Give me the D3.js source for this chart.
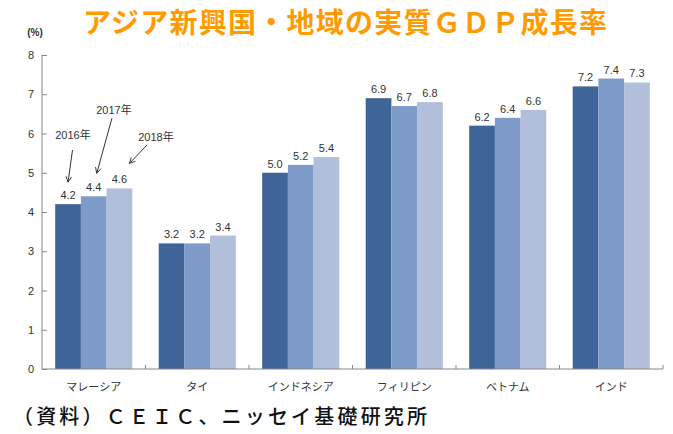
<html>
<head>
<meta charset="utf-8">
<script src="https://cdn.jsdelivr.net/npm/d3@7/dist/d3.min.js"></script>
<style>
body { margin: 0; background: #fff; }
text { font-family: "Liberation Sans", Arial, "Noto Sans CJK JP", sans-serif; }
.jp { font-family: "Noto Sans CJK JP", sans-serif; }
</style>
</head>
<body>
<svg width="673" height="434"></svg>
<script>
// data
var categories = ["マレーシア", "タイ", "インドネシア", "フィリピン", "ベトナム", "インド"];
var years = ["2016年", "2017年", "2018年"];
var v2016 = [4.2, 3.2, 5.0, 6.9, 6.2, 7.2];
var v2017 = [4.4, 3.2, 5.2, 6.7, 6.4, 7.4];
var v2018 = [4.6, 3.4, 5.4, 6.8, 6.6, 7.3];
var yTicks = [0, 1, 2, 3, 4, 5, 6, 7, 8];
var colors = ["#3f6498", "#7e9bca", "#b2bfdb"];

var series = [v2016, v2017, v2018];

var svg = d3.select("svg");
svg.append("rect").attr("width", 673).attr("height", 434).attr("fill", "#fff");

var x0 = d3.scaleBand().domain(categories).range([42, 663])
	.paddingInner(0.255).paddingOuter(0.1275);
var x1 = d3.scaleBand().domain(years).range([0, x0.bandwidth()]);
var y = d3.scaleLinear().domain([0, 8]).range([369, 55]);

// title
svg.append("text").attr("class", "jp")
	.attr("x", 83).attr("y", 33)
	.attr("textLength", 524).attr("lengthAdjust", "spacing")
	.attr("font-size", 28).attr("font-weight", "bold")
	.attr("fill", "#ff9a00")
	.text("アジア新興国・地域の実質ＧＤＰ成長率");

svg.append("text")
	.attr("x", 35).attr("y", 36)
	.attr("text-anchor", "middle")
	.attr("font-size", 10).attr("font-weight", "bold")
	.attr("fill", "#333")
	.text("(%)");

// bars
var groups = svg.append("g").selectAll("g")
	.data(categories)
	.join("g")
	.attr("transform", function(d) { return "translate(" + x0(d) + ",0)"; });

groups.selectAll("rect")
	.data(function(d, i) { return years.map(function(yr, k) { return { yr: yr, k: k, v: series[k][i] }; }); })
	.join("rect")
	.attr("x", function(d) { return x1(d.yr); })
	.attr("y", function(d) { return y(d.v); })
	.attr("width", x1.bandwidth())
	.attr("height", function(d) { return y(0) - y(d.v); })
	.attr("fill", function(d) { return colors[d.k]; });

groups.selectAll("text")
	.data(function(d, i) { return years.map(function(yr, k) { return { yr: yr, k: k, v: series[k][i] }; }); })
	.join("text")
	.attr("x", function(d) { return x1(d.yr) + x1.bandwidth() / 2; })
	.attr("y", function(d) { return y(d.v) - 5; })
	.attr("text-anchor", "middle")
	.attr("font-size", 11)
	.attr("fill", "#333")
	.text(function(d) { return d.v.toFixed(1); });

// y axis
var yAxis = d3.axisLeft(y).tickValues(yTicks).tickSize(-5).tickPadding(8);
var gy = svg.append("g").attr("transform", "translate(42,0)").call(yAxis);
gy.select(".domain").attr("stroke", "#888").attr("d", "M0," + y(8) + "V" + y(0));
gy.selectAll(".tick line").attr("stroke", "#888");
gy.selectAll(".tick text").attr("font-size", 11).attr("fill", "#333")
	.attr("font-family", "Liberation Sans, Arial, sans-serif");

// x axis
var sepTicks = categories.map(function(c) { return x0(c) - x0.step() * x0.paddingInner() / 2; });
sepTicks.push(663);
svg.append("line").attr("x1", 42).attr("x2", 663).attr("y1", y(0)).attr("y2", y(0))
	.attr("stroke", "#888");
svg.append("g").selectAll("line")
	.data(sepTicks.slice(1))
	.join("line")
	.attr("x1", function(d) { return d; }).attr("x2", function(d) { return d; })
	.attr("y1", y(0)).attr("y2", y(0) - 4)
	.attr("stroke", "#888");

svg.append("g").selectAll("text")
	.data(categories)
	.join("text")
	.attr("class", "jp")
	.attr("x", function(d) { return x0(d) + x0.bandwidth() / 2; })
	.attr("y", 391)
	.attr("text-anchor", "middle")
	.attr("font-size", 11)
	.attr("fill", "#333")
	.text(function(d) { return d; });

// year annotations with arrows
svg.append("defs").append("marker")
	.attr("id", "arr").attr("viewBox", "0 0 10 10")
	.attr("refX", 9).attr("refY", 5)
	.attr("markerWidth", 7).attr("markerHeight", 7)
	.attr("orient", "auto")
	.append("path").attr("d", "M1,1 L9,5 L1,9")
	.attr("fill", "none").attr("stroke", "#333").attr("stroke-width", 1.3);

// dx, dy: arrow tip offset from the bar's top centre
var annots = [
	{ yr: "2016年", tx: 73, ty: 139, x1: 72.5, y1: 150, v: v2016[0], dx: 0, dy: -22 },
	{ yr: "2017年", tx: 114, ty: 114, x1: 112, y1: 118, v: v2017[0], dx: 3, dy: -23 },
	{ yr: "2018年", tx: 156, ty: 141, x1: 147, y1: 145, v: v2018[0], dx: 10, dy: -25 }
];
var m = categories[0];
svg.append("g").selectAll("text")
	.data(annots)
	.join("text")
	.attr("x", function(d) { return d.tx; })
	.attr("y", function(d) { return d.ty; })
	.attr("text-anchor", "middle")
	.attr("font-size", 11)
	.attr("fill", "#333")
	.text(function(d) { return d.yr; });

svg.append("g").selectAll("line")
	.data(annots)
	.join("line")
	.attr("x1", function(d) { return d.x1; })
	.attr("y1", function(d) { return d.y1; })
	.attr("x2", function(d) { return x0(m) + x1(d.yr) + x1.bandwidth() / 2 + d.dx; })
	.attr("y2", function(d) { return y(d.v) + d.dy; })
	.attr("stroke", "#333").attr("stroke-width", 1)
	.attr("marker-end", "url(#arr)");

// source
svg.append("text").attr("class", "jp")
	.attr("x", 13).attr("y", 424)
	.attr("textLength", 414).attr("lengthAdjust", "spacing")
	.attr("font-size", 20).attr("font-weight", 500)
	.attr("fill", "#111")
	.text("（資料）ＣＥＩＣ、ニッセイ基礎研究所");
</script>
</body>
</html>
